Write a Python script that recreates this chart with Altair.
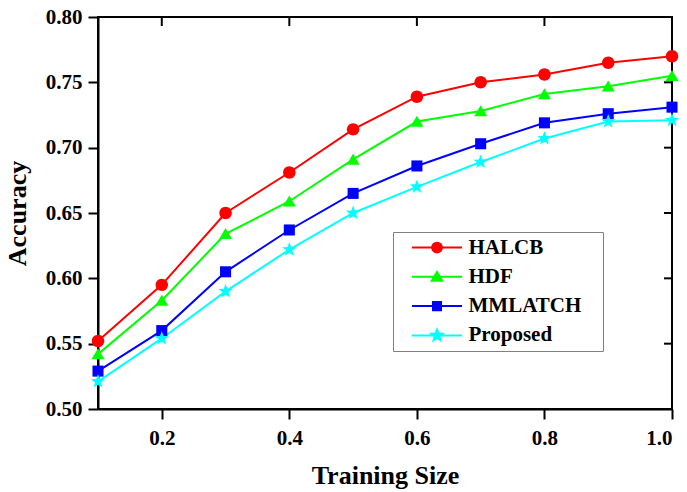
import math
import altair as alt
import pandas as pd

# ---- data ----
x_vals = [0.1, 0.2, 0.3, 0.4, 0.5, 0.6, 0.7, 0.8, 0.9, 1.0]
halcb = [0.552, 0.595, 0.650, 0.681, 0.714, 0.739, 0.750, 0.756, 0.765, 0.770]
hdf = [0.542, 0.583, 0.634, 0.659, 0.691, 0.720, 0.728, 0.741, 0.747, 0.755]
mmlatch = [0.529, 0.560, 0.605, 0.637, 0.665, 0.686, 0.703, 0.719, 0.726, 0.731]
proposed = [0.521, 0.554, 0.590, 0.622, 0.650, 0.670, 0.689, 0.707, 0.720, 0.721]
series_names = ["HALCB", "HDF", "MMLATCH", "Proposed"]
series_colors = ["#FF0000", "#00FF00", "#0000FF", "#00FFFF"]
x_ticks = [0.2, 0.4, 0.6, 0.8, 1.0]
y_ticks = [0.50, 0.55, 0.60, 0.65, 0.70, 0.75, 0.80]

rows = []
for name, vals in zip(series_names, [halcb, hdf, mmlatch, proposed]):
    for xv, yv in zip(x_vals, vals):
        rows.append({"size": xv, "acc": yv, "series": name})
df = pd.DataFrame(rows)
xt_df = pd.DataFrame({"t": x_ticks})
yt_df = pd.DataFrame({"t": y_ticks})

# ---- marker shapes (SVG paths in unit space) ----
def star(r, inner=0.42):
    pts = []
    for i in range(10):
        ang = math.radians(-90 + 36 * i)
        rad = r if i % 2 == 0 else r * inner
        pts.append(f"{rad*math.cos(ang):.3f},{rad*math.sin(ang):.3f}")
    return "M" + "L".join(pts) + "Z"

def circ(r):
    return f"M{r},0A{r},{r} 0 1,1 {-r},0A{r},{r} 0 1,1 {r},0Z"

def tri(w, top, bot):
    return f"M0,{-top}L{w},{bot}L{-w},{bot}Z"

def sq(h):
    return f"M{-h},{-h}H{h}V{h}H{-h}Z"

plot_shapes = [circ(0.96), tri(1.0, 0.9, 0.8), sq(0.85), star(1.15)]
seg = "M-3.85,0H3.85"
legend_shapes = [seg + circ(0.75), seg + tri(0.8, 0.75, 0.6), seg + sq(0.62), seg + star(0.9)]

FONT = "Liberation Serif"
W, H = 574, 392

xs = alt.Scale(domain=[0.1, 1.0], nice=False, zero=False)
ys = alt.Scale(domain=[0.5, 0.8], nice=False, zero=False)
cscale = alt.Scale(domain=series_names, range=series_colors)

base = alt.Chart(df)

lines = base.mark_line(strokeWidth=2).encode(
    x=alt.X("size:Q", scale=xs,
            axis=alt.Axis(values=x_ticks, format=".1f", title="Training Size",
                          tickSize=10, labelPadding=8, titlePadding=14)),
    y=alt.Y("acc:Q", scale=ys,
            axis=alt.Axis(values=y_ticks, format=".2f", title="Accuracy",
                          tickSize=10, labelPadding=6, titlePadding=15)),
    color=alt.Color("series:N", scale=cscale, legend=None),
    order=alt.Order("size:Q"),
)

# inward mirror ticks on top and right edges
top_ticks = alt.Chart(xt_df).mark_rule(color="black", strokeWidth=2).encode(
    x=alt.X("t:Q", scale=xs, axis=None),
    y=alt.value(0), y2=alt.value(9),
)
right_ticks = alt.Chart(yt_df).mark_rule(color="black", strokeWidth=2).encode(
    y=alt.Y("t:Q", scale=ys, axis=None),
    x=alt.value(W - 8), x2=alt.value(W),
)

point_layers = []
for name, shp in zip(series_names, plot_shapes):
    point_layers.append(
        base.transform_filter(alt.datum.series == name)
        .mark_point(filled=True, size=169, opacity=1, shape=shp)
        .encode(
            x=alt.X("size:Q", scale=xs, axis=None),
            y=alt.Y("acc:Q", scale=ys, axis=None),
            color=alt.Color("series:N", scale=cscale, legend=None),
        )
    )

leg = alt.Legend(
    orient="none", legendX=295, legendY=215, title=None,
    labelFont=FONT, labelFontWeight="bold", labelFontSize=21, labelColor="black",
    symbolSize=169, symbolStrokeWidth=2, symbolOpacity=1,
    symbolOffset=28.5, labelOffset=21, rowPadding=7.3, padding=5,
    strokeColor="#808080", fillColor="white",
    labelExpr="datum.label + '\u00a0\u00a0\u00a0\u200b'",
)

legend_layer = base.mark_point(filled=True, opacity=0, size=169).encode(
    x=alt.X("size:Q", scale=xs, axis=None),
    y=alt.Y("acc:Q", scale=ys, axis=None),
    fill=alt.Fill("series:N", scale=alt.Scale(domain=series_names, range=series_colors), legend=leg),
    stroke=alt.Stroke("series:N", scale=alt.Scale(domain=series_names, range=series_colors), legend=leg),
    shape=alt.Shape("series:N", scale=alt.Scale(domain=series_names, range=legend_shapes), legend=leg),
)

chart = (
    alt.layer(lines, top_ticks, right_ticks, *point_layers, legend_layer)
    .resolve_scale(fill="independent", stroke="independent", shape="independent")
    .resolve_axis(x="independent", y="independent")
    .properties(
        width=W, height=H,
        padding={"left": 98, "top": 17, "right": 15, "bottom": 83},
        autosize=alt.AutoSizeParams(type="none"),
        background="white",
    )
    .configure_view(stroke="black", strokeWidth=2)
    .configure_axis(
        grid=False, labelFont=FONT, labelFontWeight="bold", labelFontSize=21,
        labelColor="black", titleFont=FONT, titleFontWeight="bold", titleFontSize=26,
        titleColor="black", tickColor="black", tickWidth=2, domainColor="black",
        domainWidth=2,
    )
)

chart.save("out.html", embed_options={"renderer": "svg", "actions": False})
